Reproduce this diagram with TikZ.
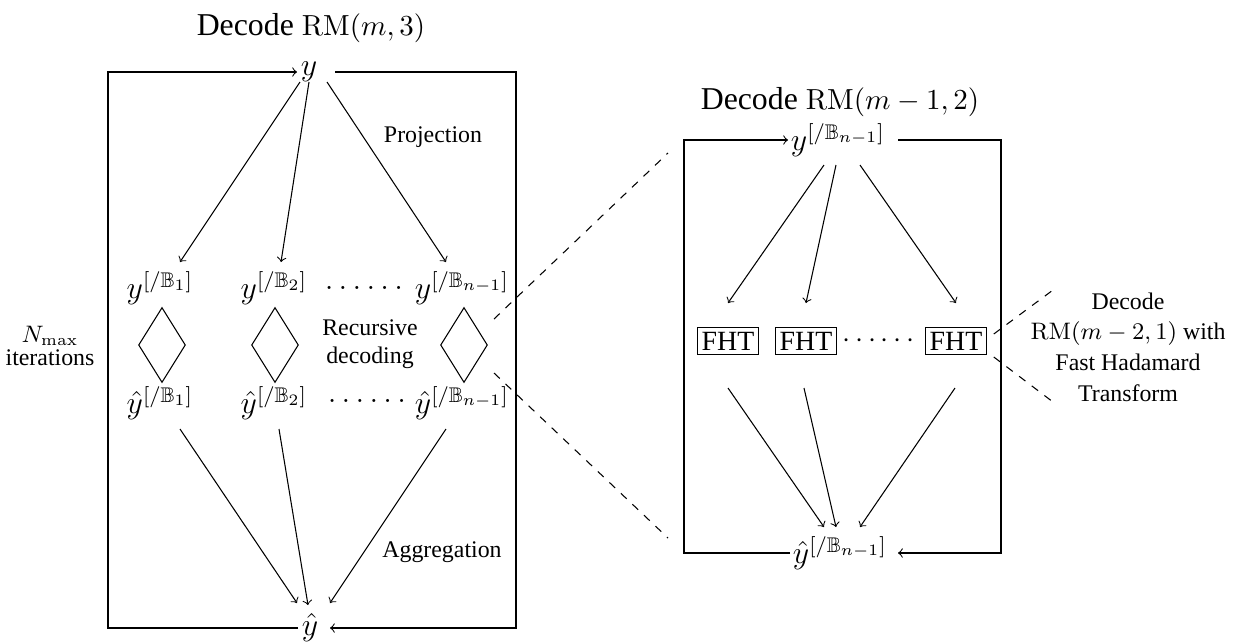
\documentclass[tikz,border=0pt]{standalone}
\usepackage{amsmath}
\usepackage{amssymb}
\usepackage[no-math]{fontspec}
\setmainfont{Liberation Serif}
\usetikzlibrary{arrows, shapes.geometric}
\newcommand{\titlemath}[1]{{\fontsize{10.8}{13}\selectfont$#1$}}
\tikzstyle{mathnode} = [inner sep=1pt, font=\fontsize{12}{14}\selectfont]
\tikzstyle{title} = [font=\fontsize{12}{14}\selectfont]
\tikzstyle{note} = [align=center, font=\fontsize{9}{10.5}\selectfont]
\tikzstyle{tightnote} = [align=center, font=\fontsize{9}{8.7}\selectfont]
\tikzstyle{fhtnote} = [align=center, font=\fontsize{9}{11.6}\selectfont]
\tikzstyle{fht} = [rectangle, draw=black, inner sep=1.5pt, font=\fontsize{10.5}{12}\selectfont]
\tikzstyle{decoder} = [diamond, draw=black, minimum width=17.7pt, minimum height=28.3pt, inner sep=0pt]
\tikzstyle{arrow} = [->]
\tikzstyle{zoomline} = [dashed]

\begin{document}
\begin{tikzpicture}[x=0.3774pt, y=-0.3774pt]
\useasboundingbox (0,0) rectangle (1241,641);
% 左侧: 解码 RM(m,3)
\node (title1) [title] at (311,28) {Decode \titlemath{\mathrm{RM}(m,3)}};
\node (y) [mathnode] at (309,72) {$y$};
\node (c1) [mathnode] at (160,288) {$y^{[/\mathbb{B}_1]}$};
\node (c2) [mathnode] at (274,288) {$y^{[/\mathbb{B}_2]}$};
\node (cdots) [mathnode] at (364,288) {$\ldots\ldots$};
\node (c3) [mathnode] at (462,288) {$y^{[/\mathbb{B}_{n-1}]}$};
\node (d1) [decoder] at (162,345) {};
\node (d2) [decoder] at (275,345) {};
\node (d3) [decoder] at (464,345) {};
\node (h1) [mathnode] at (160,403) {$\hat{y}^{[/\mathbb{B}_1]}$};
\node (h2) [mathnode] at (274,403) {$\hat{y}^{[/\mathbb{B}_2]}$};
\node (hdots) [mathnode] at (367,401) {$\ldots\ldots$};
\node (h3) [mathnode] at (462,403) {$\hat{y}^{[/\mathbb{B}_{n-1}]}$};
\node (yhat) [mathnode] at (310,628) {$\hat{y}$};
\node (proj) [note] at (433,137) {Projection};
\node (rec) [note] at (370,344) {Recursive\\decoding};
\node (agg) [note] at (442,552) {Aggregation};
\node (iter) [tightnote] at (50,346) {$N_{\max}$\\iterations};
\coordinate (lt) at (108,72);
\coordinate (rt) at (516,72);
\coordinate (rb) at (516,628);
\coordinate (lb) at (108,628);
\draw [arrow] ([shift={(-12,0)}]yhat.center) -- (lb) -- (lt) -- ([shift={(-12,0)}]y.center);
\draw [arrow] ([shift={(26,0)}]y.center) -- (rt) -- (rb) -- ([shift={(20,0)}]yhat.center);
% 投影与聚合
\draw [arrow] ([shift={(-9,10)}]y.center) -- ([shift={(20,-26)}]c1.center);
\draw [arrow] ([shift={(0,10)}]y.center) -- ([shift={(7,-26)}]c2.center);
\draw [arrow] ([shift={(18,10)}]y.center) -- ([shift={(-16,-26)}]c3.center);
\draw [arrow] ([shift={(20,26)}]h1.center) -- ([shift={(-13,-25)}]yhat.center);
\draw [arrow] ([shift={(5,26)}]h2.center) -- ([shift={(-2,-23)}]yhat.center);
\draw [arrow] ([shift={(-16,26)}]h3.center) -- ([shift={(20,-25)}]yhat.center);
% 右侧: 解码 RM(m-1,2)
\node (title2) [title] at (840,102) {Decode \titlemath{\mathrm{RM}(m-1,2)}};
\node (sy) [mathnode] at (838,140) {$y^{[/\mathbb{B}_{n-1}]}$};
\node (f1) [fht] at (728,341) {FHT};
\node (f2) [fht] at (806,341) {FHT};
\node (fdots) [fht, draw=none] at (881,341) {$\cdots\cdots$};
\node (f3) [fht] at (956,341) {FHT};
\node (syhat) [mathnode] at (840,553) {$\hat{y}^{[/\mathbb{B}_{n-1}]}$};
\node (fhtinfo) [fhtnote] at (1128,347) {Decode\\$\mathrm{RM}(m-2,1)$ with\\Fast Hadamard\\Transform};
\coordinate (slt) at (684,140);
\coordinate (srt) at (1001,140);
\coordinate (srb) at (1001,553);
\coordinate (slb) at (684,553);
\draw [arrow] ([shift={(-50,0)}]syhat.center) -- (slb) -- (slt) -- ([shift={(-50,0)}]sy.center);
\draw [arrow] ([shift={(60,0)}]sy.center) -- (srt) -- (srb) -- ([shift={(58,0)}]syhat.center);
\draw [arrow] ([shift={(-14,25)}]sy.center) -- ([shift={(0,-38)}]f1.center);
\draw [arrow] ([shift={(-2,25)}]sy.center) -- ([shift={(0,-38)}]f2.center);
\draw [arrow] ([shift={(22,25)}]sy.center) -- ([shift={(0,-38)}]f3.center);
\draw [arrow] ([shift={(0,47)}]f1.center) -- ([shift={(-16,-26)}]syhat.center);
\draw [arrow] ([shift={(-2,47)}]f2.center) -- ([shift={(-4,-26)}]syhat.center);
\draw [arrow] ([shift={(-1,47)}]f3.center) -- ([shift={(20,-26)}]syhat.center);
% 放大虚线
\coordinate (zt) at (668,153);
\coordinate (zb) at (668,538);
\draw [zoomline] ([shift={(30,-26)}]d3.center) -- (zt);
\draw [zoomline] ([shift={(30,28)}]d3.center) -- (zb);
\coordinate (nt) at (1053,290);
\coordinate (nb) at (1053,402);
\draw [zoomline] ([shift={(7,-7)}]f3.east) -- (nt);
\draw [zoomline] ([shift={(7,16)}]f3.east) -- (nb);
\end{tikzpicture}
\end{document}
